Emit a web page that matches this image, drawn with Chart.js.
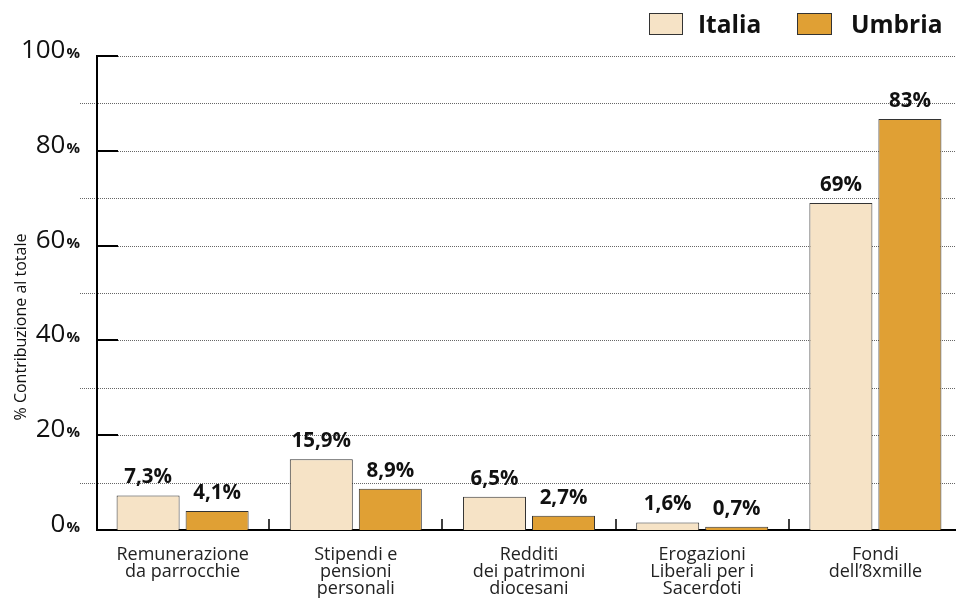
<!DOCTYPE html>
<html>
<head>
<meta charset="utf-8">
<script src="https://cdn.jsdelivr.net/npm/chart.js@4/dist/chart.umd.min.js"></script>
<style>
  html, body { margin: 0; padding: 0; background: #fff; overflow: hidden; }
  #wrap { width: 962px; height: 598px; }
</style>
</head>
<body>
<div id="wrap"><canvas id="chart" width="962" height="598"></canvas></div>
<script>
// Chart data
const categories = [
    ['Remunerazione', 'da parrocchie'],
    ['Stipendi e', 'pensioni', 'personali'],
    ['Redditi', 'dei patrimoni', 'diocesani'],
    ['Erogazioni', 'Liberali per i', 'Sacerdoti'],
    ['Fondi', 'dell\u20198xmille']
];
const seriesNames = ['Italia', 'Umbria'];
// bar heights as drawn in the picture
const italiaValues = [7.3, 14.9, 7.0, 1.6, 69.0];
const umbriaValues = [4.0, 8.7, 3.0, 0.7, 86.7];
// value labels printed above the bars
const italiaLabels = ['7,3%', '15,9%', '6,5%', '1,6%', '69%'];
const umbriaLabels = ['4,1%', '8,9%', '2,7%', '0,7%', '83%'];
const yTicks = [0, 20, 40, 60, 80, 100];
const yMinorTicks = [10, 30, 50, 70, 90];
const yTitle = '% Contribuzione al totale';

const colors = ['#f6e3c6', '#e0a034'];
const edge = '#333';
const FONT = "'Open Sans', 'Noto Sans', sans-serif";

// Custom axis, grid, labels and legend
const decorPlugin = {
    id: 'decor',
    beforeDatasetsDraw(chart) {
        const { ctx, chartArea, scales } = chart;
        const y = scales.y;
        const ax = chartArea.left + 1;
        ctx.save();
        // dotted grid lines
        ctx.strokeStyle = '#666';
        ctx.lineWidth = 1;
        ctx.setLineDash([1, 1]);
        yTicks.forEach(v => {
            if (v === 0) return;
            const py = Math.round(y.getPixelForValue(v)) + 0.5;
            ctx.beginPath();
            ctx.moveTo(ax + 21, py);
            ctx.lineTo(chartArea.right, py);
            ctx.stroke();
        });
        yMinorTicks.forEach(v => {
            const py = Math.round(y.getPixelForValue(v)) + 0.5;
            ctx.beginPath();
            ctx.moveTo(ax - 17, py);
            ctx.lineTo(chartArea.right, py);
            ctx.stroke();
        });
        ctx.setLineDash([]);
        // solid major ticks
        ctx.strokeStyle = '#000';
        ctx.lineWidth = 2;
        yTicks.forEach(v => {
            const py = Math.round(y.getPixelForValue(v));
            ctx.beginPath();
            ctx.moveTo(ax, py);
            ctx.lineTo(v === 0 ? chartArea.right : ax + 21, py);
            ctx.stroke();
        });
        // y axis line
        ctx.beginPath();
        ctx.moveTo(ax, Math.round(y.getPixelForValue(100)) - 1);
        ctx.lineTo(ax, Math.round(y.getPixelForValue(0)) + 1);
        ctx.stroke();
        // category separators
        ctx.lineWidth = 1.5;
        const step = (chartArea.right - chartArea.left) / categories.length;
        for (let i = 1; i <= categories.length; i++) {
            const px = Math.round(chartArea.left + step * i);
            ctx.beginPath();
            ctx.moveTo(px, y.getPixelForValue(0));
            ctx.lineTo(px, y.getPixelForValue(0) - 11);
            ctx.stroke();
        }
        // y tick labels: big number + small bold %
        ctx.fillStyle = '#111';
        ctx.textBaseline = 'alphabetic';
        yTicks.forEach(v => {
            const py = y.getPixelForValue(v) + 2;
            ctx.font = 'bold 15px ' + FONT;
            ctx.textAlign = 'right';
            ctx.fillText('%', 80, py);
            const pw = ctx.measureText('%').width;
            ctx.font = '26px ' + FONT;
            ctx.fillText(String(v), 80 - pw - 1, py);
        });
        // y axis title
        ctx.save();
        ctx.translate(21, 327);
        ctx.rotate(-Math.PI / 2);
        ctx.font = '16px ' + FONT;
        ctx.textAlign = 'center';
        ctx.textBaseline = 'middle';
        ctx.fillText(yTitle, 0, 0);
        ctx.restore();
        ctx.restore();
    },
    afterDatasetsDraw(chart) {
        const { ctx } = chart;
        const labelSets = [italiaLabels, umbriaLabels];
        ctx.save();
        ctx.font = 'bold 20.5px ' + FONT;
        ctx.fillStyle = '#111';
        ctx.textAlign = 'center';
        ctx.textBaseline = 'alphabetic';
        chart.data.datasets.forEach((ds, di) => {
            chart.getDatasetMeta(di).data.forEach((bar, i) => {
                ctx.fillText(labelSets[di][i], bar.x, bar.y - 12);
            });
        });
        // legend
        const items = [
            { box: 649, text: 698, w: 34 },
            { box: 797, text: 851, w: 35 }
        ];
        items.forEach((it, i) => {
            ctx.fillStyle = colors[i];
            ctx.fillRect(it.box, 13, it.w, 22);
            ctx.strokeStyle = edge;
            ctx.lineWidth = 1;
            ctx.strokeRect(it.box + 0.5, 13.5, it.w - 1, 21);
            ctx.fillStyle = '#111';
            ctx.font = 'bold 24.5px ' + FONT;
            ctx.textAlign = 'left';
            ctx.textBaseline = 'alphabetic';
            ctx.fillText(seriesNames[i], it.text, 33);
        });
        ctx.restore();
    }
};

new Chart(document.getElementById('chart').getContext('2d'), {
    type: 'bar',
    data: {
        labels: categories,
        datasets: [
            {
                label: seriesNames[0],
                data: italiaValues,
                backgroundColor: colors[0],
                borderColor: edge,
                borderWidth: 1
            },
            {
                label: seriesNames[1],
                data: umbriaValues,
                backgroundColor: colors[1],
                borderColor: edge,
                borderWidth: 1
            }
        ]
    },
    options: {
        responsive: false,
        animation: false,
        layout: { padding: { left: 96, right: 0, top: 56, bottom: 0 } },
        datasets: {
            bar: { categoryPercentage: 0.797, barPercentage: 0.913 }
        },
        plugins: {
            legend: { display: false },
            tooltip: { enabled: false }
        },
        scales: {
            x: {
                grid: { display: false, drawTicks: false },
                border: { display: false },
                ticks: {
                    padding: 17,
                    color: '#222',
                    font: { family: FONT, size: 18, lineHeight: 0.93 },
                    maxRotation: 0,
                    autoSkip: false
                },
                afterFit: (scale) => { scale.height = 68; }
            },
            y: {
                display: false,
                min: 0,
                max: 100
            }
        }
    },
    plugins: [decorPlugin]
});
</script>
</body>
</html>
